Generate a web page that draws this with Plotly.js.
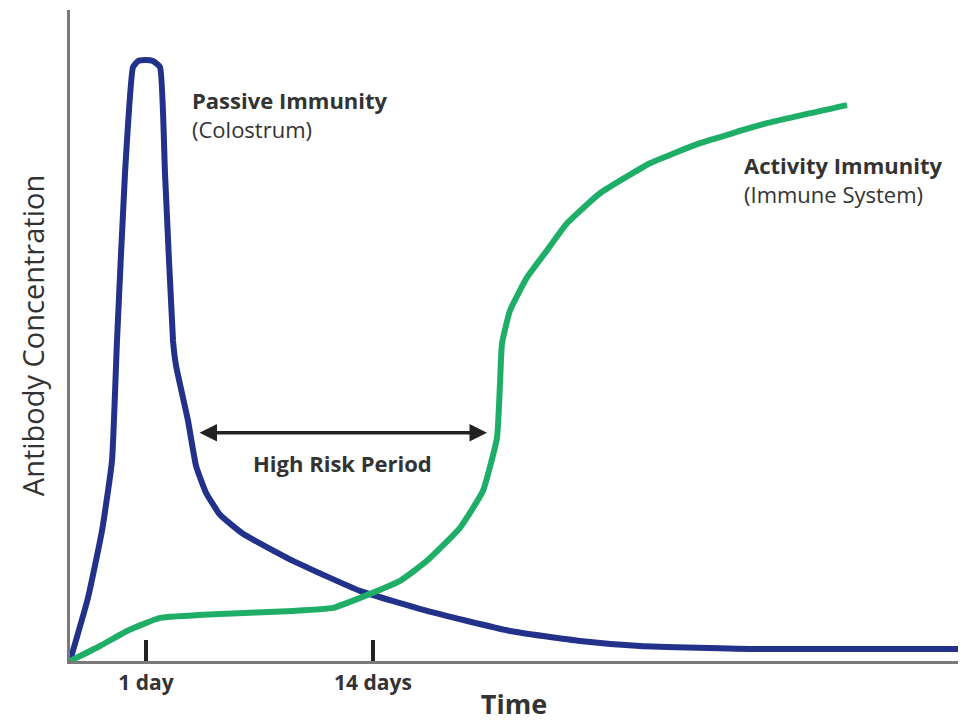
<!DOCTYPE html>
<html>
<head>
<meta charset="utf-8">
<script src="https://cdn.plot.ly/plotly-3.0.1.min.js"></script>
<style>html,body{margin:0;padding:0;background:#fff;}#chart{width:965px;height:727px;}</style>
</head>
<body>
<div id="chart"></div>
<script>
// Time axis in arbitrary units (0..888), antibody concentration in arbitrary units (0..650)
const passiveX = [0, 18, 32, 42, 47, 55, 63, 68, 75, 83, 90, 95, 103, 106, 118, 126, 136, 150, 173, 223, 290, 357, 440, 510, 570, 690, 888];
const passiveY = [0, 63, 130, 200, 320, 487, 593, 599, 600, 599, 593, 487, 320, 295, 240, 195, 168, 146, 127, 100, 70, 50, 30, 20, 15, 12, 12];

const activeX = [0, 30, 57, 90, 150, 223, 263, 300, 330, 357, 390, 413, 427, 430, 432, 440, 457, 477, 497, 530, 580, 630, 697, 777];
const activeY = [0, 15, 30, 43, 47, 50, 53, 67, 80, 100, 133, 170, 223, 277, 317, 350, 383, 410, 437, 467, 497, 517, 537, 555];

const tickVals = [76, 303];
const tickLabels = ['1 day', '14 days'];

const riskStart = 128, riskEnd = 417, riskLevel = 228;

const font = '"Open Sans", "DejaVu Sans", sans-serif';
const textColor = '#333333';

const traces = [
  {x: passiveX, y: passiveY, type: 'scatter', mode: 'lines', name: 'Passive Immunity',
   line: {color: '#22318a', width: 6, shape: 'spline', smoothing: 0.4}, hoverinfo: 'skip'},
  {x: activeX, y: activeY, type: 'scatter', mode: 'lines', name: 'Activity Immunity',
   line: {color: '#1fae68', width: 6, shape: 'spline', smoothing: 0.4}, hoverinfo: 'skip'}
];

const layout = {
  width: 965, height: 727,
  margin: {l: 70, r: 7, t: 10, b: 66},
  paper_bgcolor: '#ffffff', plot_bgcolor: '#ffffff',
  showlegend: false,
  font: {family: font, color: textColor},
  xaxis: {
    range: [0, 888], showgrid: false, zeroline: false,
    showline: true, linecolor: '#7a7a7a', linewidth: 3,
    tickmode: 'array', tickvals: tickVals, ticktext: tickLabels,
    ticks: 'inside', ticklen: 21, tickwidth: 4, tickcolor: '#222222',
    tickfont: {family: font, size: 21, color: textColor, weight: 'bold'},
    ticklabelstandoff: 1,
    title: {text: 'Time', font: {family: font, size: 27, color: textColor, weight: 'bold'}, standoff: 0},
    fixedrange: true
  },
  yaxis: {
    range: [0, 650], showgrid: false, zeroline: false,
    showline: true, linecolor: '#7a7a7a', linewidth: 3,
    showticklabels: false, ticks: '',
    title: {text: 'Antibody Concentration', font: {family: font, size: 29, color: textColor}, standoff: 14},
    fixedrange: true
  },
  annotations: [
    {x: riskEnd, y: riskLevel, ax: riskStart, ay: riskLevel, xref: 'x', yref: 'y', axref: 'x', ayref: 'y',
     text: '', showarrow: true, arrowhead: 2, arrowside: 'end+start', arrowsize: 1, arrowwidth: 3.5, arrowcolor: '#222222'},
    {x: 272, y: 198, xref: 'x', yref: 'y', text: '<b>High Risk Period</b>', showarrow: false,
     font: {family: font, size: 22, color: textColor}},
    {x: 120, y: 546, xref: 'x', yref: 'y', xanchor: 'left', align: 'left',
     text: '<b>Passive Immunity</b><br>(Colostrum)', showarrow: false,
     font: {family: font, size: 22, color: textColor}},
    {x: 672, y: 481, xref: 'x', yref: 'y', xanchor: 'left', align: 'left',
     text: '<b>Activity Immunity</b><br>(Immune System)', showarrow: false,
     font: {family: font, size: 22, color: textColor}}
  ]
};

Plotly.newPlot('chart', traces, layout, {displayModeBar: false, staticPlot: true});
</script>
</body>
</html>
